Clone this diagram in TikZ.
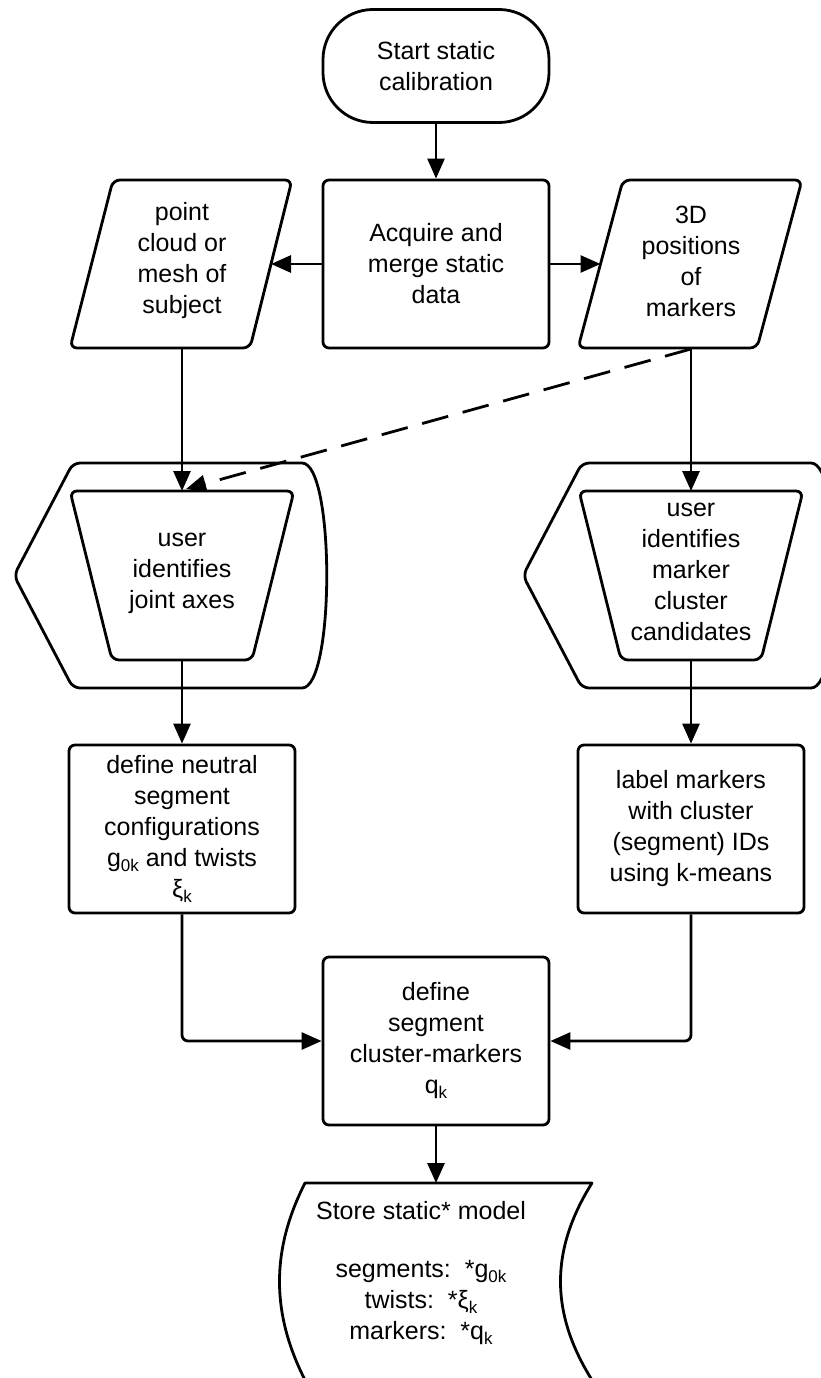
\documentclass[tikz,border=0pt]{standalone}
\usepackage{fontspec}
\setmainfont{Liberation Sans}
\usetikzlibrary{arrows.meta}
% lowered small index, as in g_{0k}
\newcommand{\lowsub}[1]{\raisebox{-0.35ex}{\fontsize{17}{17}\selectfont #1}}

\begin{document}
\begin{tikzpicture}[x=1pt,y=-1pt,
  line width=2.8pt, line join=round,
  txt/.style={font=\fontsize{25}{31}\selectfont, align=center, inner sep=0pt},
  flow/.style={-{Triangle[length=20pt,width=17pt]}},
  proc/.style={txt, draw, rounded corners=6pt, minimum width=226pt, minimum height=168pt},
  outline/.style={rounded corners=7pt},
  dashflow/.style={flow, dash pattern=on 27pt off 15pt}
]
\useasboundingbox (0,0) rectangle (821,1378);

% ---- start and data acquisition
\node[proc, rounded corners=50pt, minimum height=113pt] (start) at (436,66) {Start static\\calibration};
\node[proc] (acq) at (436,264) {Acquire and\\merge static\\data};

% ---- data parallelograms
\draw[outline] (113,180) -- (292,180) -- (250,348) -- (70,348) -- cycle;
\node[txt] (cloud) at (182,261) {point\\cloud or\\mesh of\\subject};
\coordinate (cloudR) at (271,264);
\coordinate (cloudB) at (182,348);

\draw[outline] (623,180) -- (802,180) -- (757,348) -- (578,348) -- cycle;
\node[txt] (pos) at (691,261) {3D\\positions\\of\\markers};
\coordinate (posL) at (600.5,264);
\coordinate (posB) at (691,349);

% ---- display shapes with manual operations inside
\draw[outline] (73,463) -- (295,463) .. controls (335,463) and (335,688) .. (295,688)
  -- (73,688) -- (14,575.5) -- cycle;
\draw[outline] (70,491) -- (294,491) -- (252,660) -- (112,660) -- cycle;
\node[txt] (axes) at (182,573) {user\\identifies\\joint axes};
\coordinate (axesT) at (182,491);
\coordinate (axesD) at (186,489);
\coordinate (axesB) at (182,660);

\draw[outline] (582,463) -- (804,463) .. controls (844,463) and (844,688) .. (804,688)
  -- (582,688) -- (523,575.5) -- cycle;
\draw[outline] (579,491) -- (803,491) -- (761,660) -- (621,660) -- cycle;
\node[txt] (cand) at (691,572) {user\\identifies\\marker\\cluster\\candidates};
\coordinate (candT) at (691,491);
\coordinate (candB) at (691,660);

% ---- processing boxes
\node[proc] (neutral) at (182,829) {define neutral\\segment\\configurations\\g\lowsub{0k} and twists\\ξ\lowsub{k}};
\node[proc] (label) at (691,829) {label markers\\with cluster\\(segment) IDs\\using k-means};
\node[proc] (clust) at (436,1041) {define\\segment\\cluster-markers\\q\lowsub{k}};

% ---- stored data
\draw (305,1183) -- (592,1183) .. controls (550,1250) and (550,1313) .. (592,1380)
  -- (305,1380) .. controls (271,1313) and (271,1250) .. (305,1183) -- cycle;
\node[txt] (store) at (421,1273) {Store static* model\\[27pt]segments:\ \ *g\lowsub{0k}\\twists:\ \ *ξ\lowsub{k}\\markers:\ \ *q\lowsub{k}};
\coordinate (storeT) at (436,1183);

% ---- connectors
\draw[flow] (start) -- (acq);
\draw[flow] (acq.west) -- (cloudR);
\draw[flow] (acq.east) -- (posL);
\draw[flow] (cloudB) -- (axesT);
\draw[flow] (posB |- cloudB) -- (candT);
\draw[dashflow] (posB) -- (axesD);
\draw[flow] (axesB) -- (neutral);
\draw[flow] (candB) -- (label);
\draw[flow, rounded corners=6pt] (neutral.south) |- (clust.west);
\draw[flow, rounded corners=6pt] (label.south) |- (clust.east);
\draw[flow] (clust) -- (storeT);
\end{tikzpicture}
\end{document}
